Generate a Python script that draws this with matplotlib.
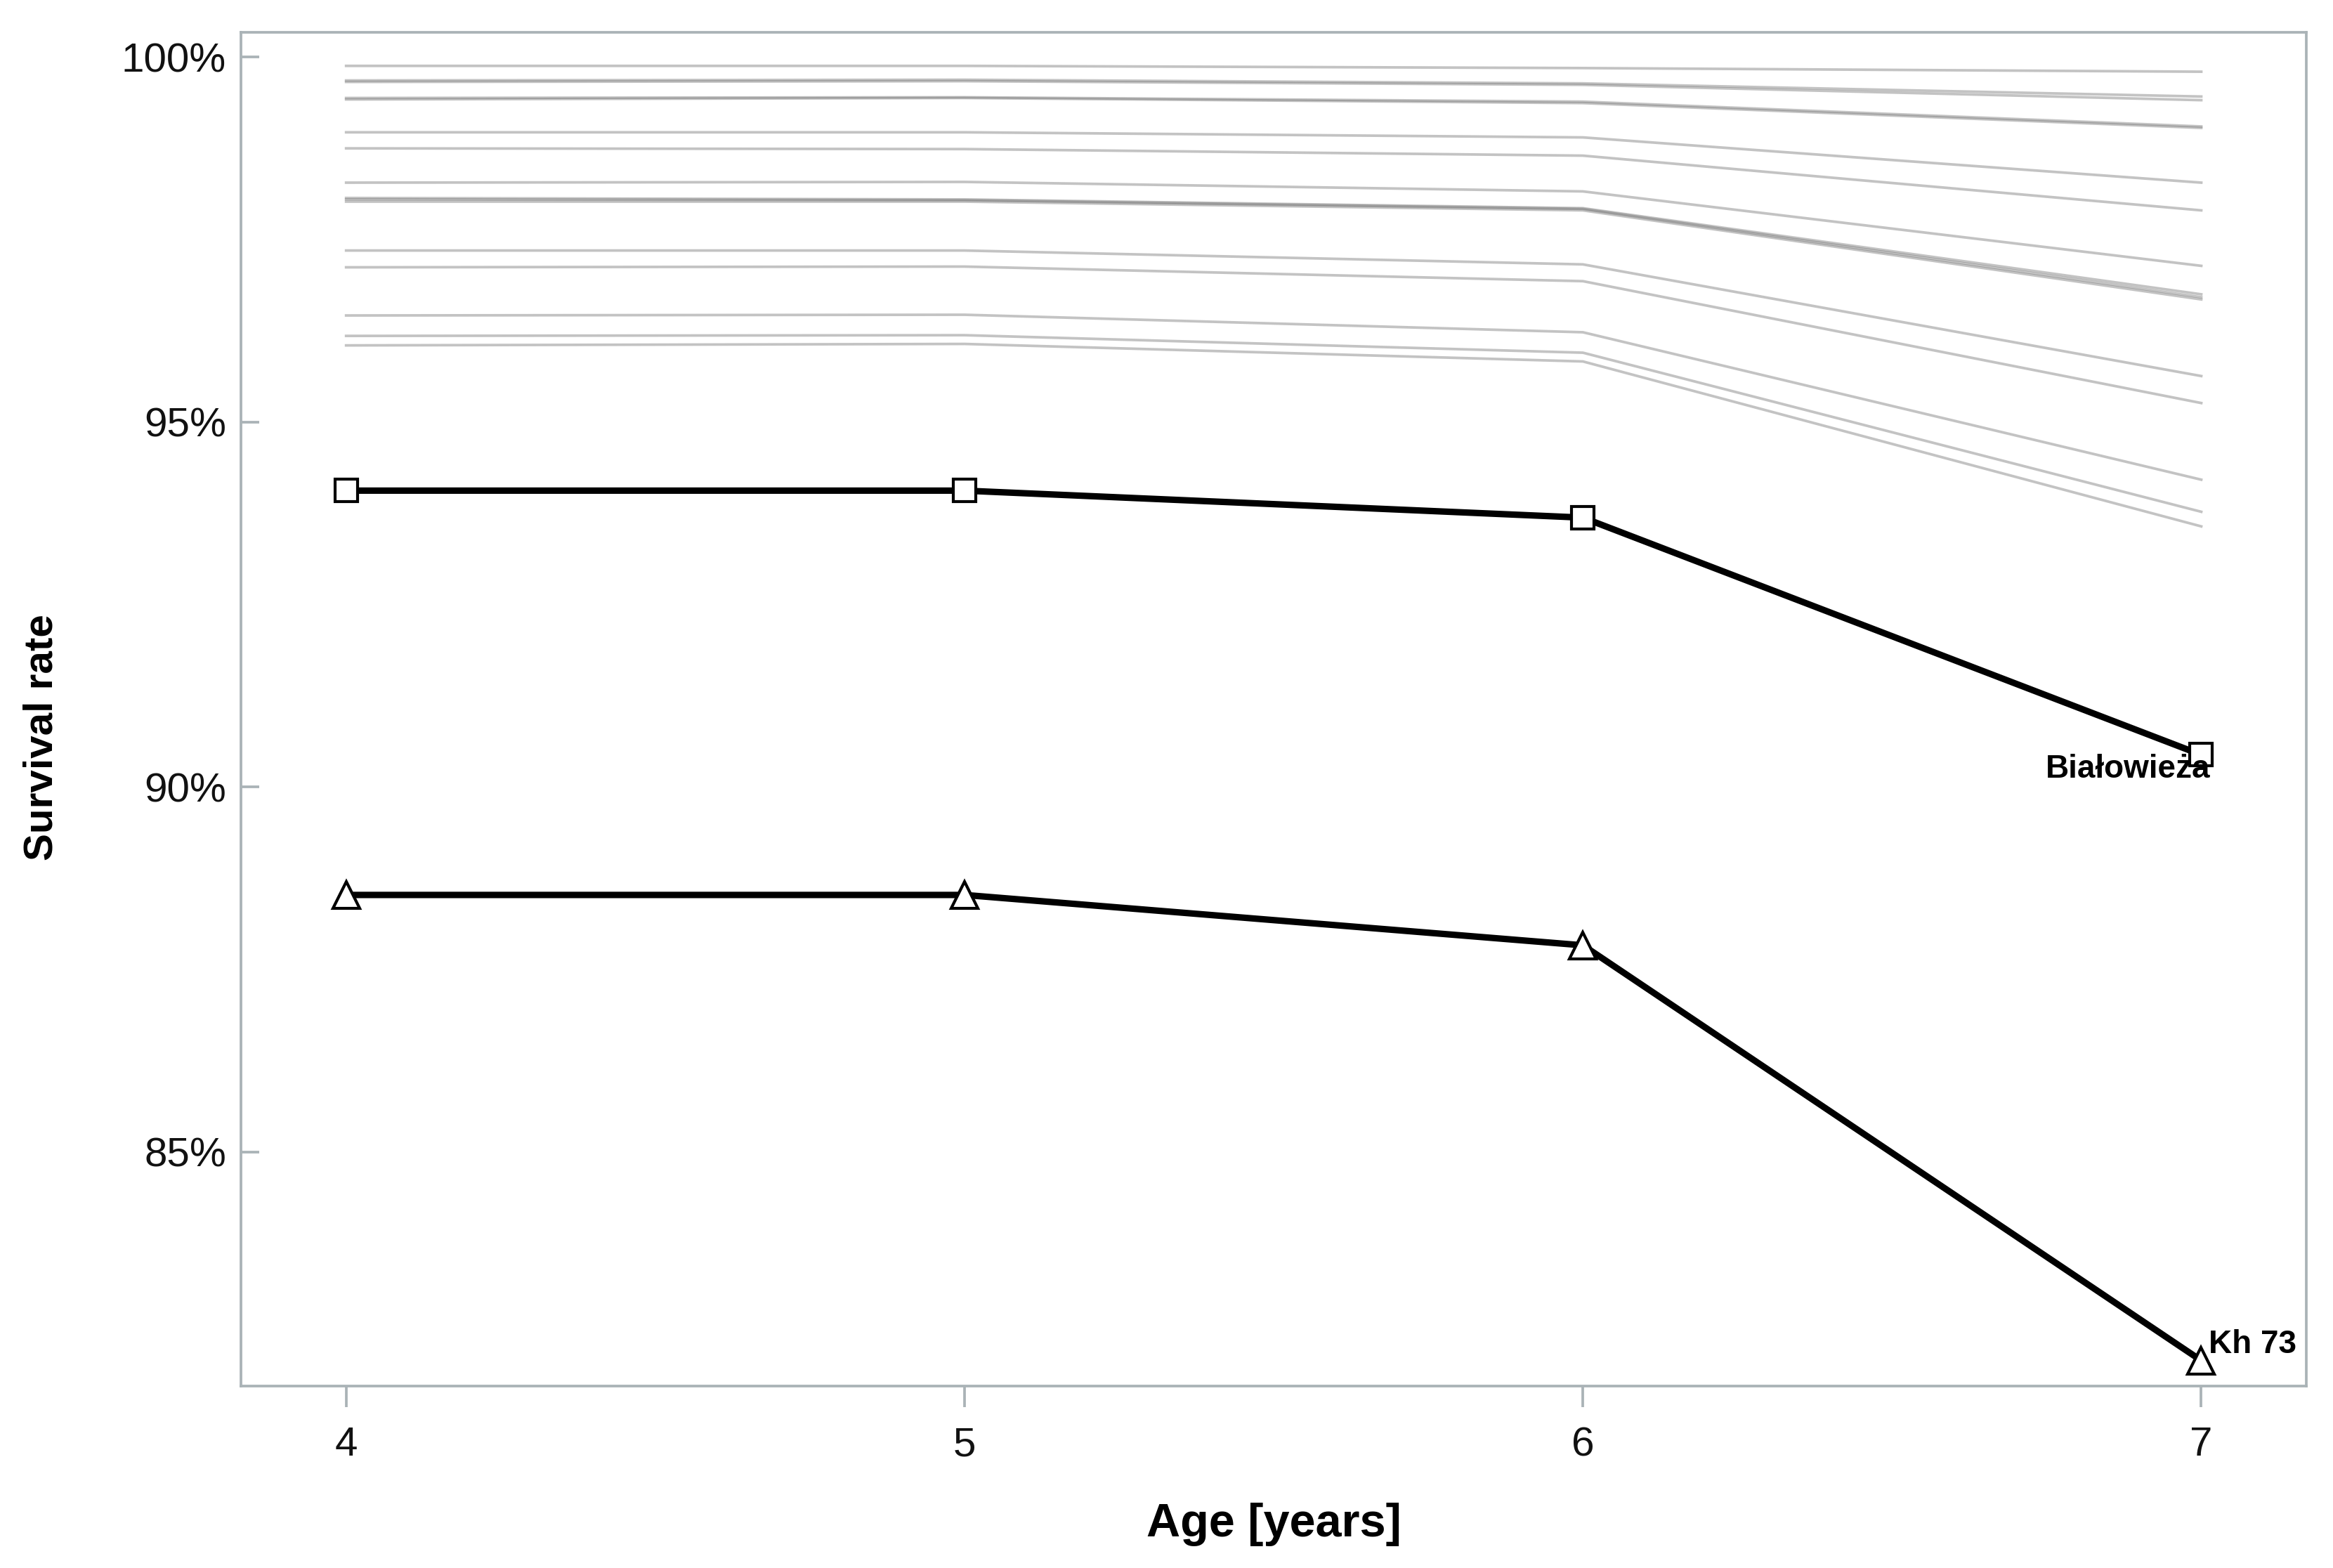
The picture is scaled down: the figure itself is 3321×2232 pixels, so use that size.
import matplotlib
matplotlib.use("Agg")
import matplotlib.pyplot as plt
from matplotlib.ticker import FuncFormatter

# Wiek (lata)
ages = [4, 5, 6, 7]

# Pozostałe populacje (szare linie), wartości w %
other_sites = [
    [99.88, 99.88, 99.85, 99.80],
    [99.68, 99.69, 99.64, 99.46],
    [99.66, 99.67, 99.62, 99.41],
    [99.44, 99.45, 99.39, 99.05],
    [99.42, 99.44, 99.37, 99.03],
    [98.97, 98.97, 98.90, 98.28],
    [98.75, 98.74, 98.65, 97.90],
    [98.28, 98.29, 98.16, 97.14],
    [98.07, 98.05, 97.93, 96.75],
    [98.05, 98.04, 97.92, 96.71],
    [98.02, 98.02, 97.90, 96.68],
    [97.35, 97.35, 97.16, 95.63],
    [97.12, 97.13, 96.93, 95.26],
    [96.46, 96.47, 96.23, 94.21],
    [96.18, 96.19, 95.95, 93.77],
    [96.05, 96.07, 95.83, 93.57],
]

bialowieza = [94.06, 94.06, 93.69, 90.44]
kh73 = [88.52, 88.52, 87.83, 82.14]

y_ticks = [85, 90, 95, 100]

plt.rcParams['font.family'] = ['Liberation Sans', 'DejaVu Sans']

spine_color = '#aab3b7'

fig = plt.figure(figsize=(3321 / 300, 2232 / 300), dpi=300)
ax = fig.add_axes([0.1033, 0.1160, 0.8853, 0.8634])

for vals in other_sites:
    ax.plot(ages, vals, color='0.42', alpha=0.4, linewidth=0.9)

ax.plot(ages, bialowieza, color='black', linewidth=2.2, marker='s',
        markersize=7.8, markerfacecolor='white', markeredgecolor='black',
        markeredgewidth=1.0, zorder=5)
ax.plot(ages, kh73, color='black', linewidth=2.2, marker='^',
        markersize=9, markerfacecolor='white', markeredgecolor='black',
        markeredgewidth=1.0, zorder=5)

ax.annotate('Białowieża', xy=(ages[-1], bialowieza[-1]), xytext=(3, -5),
            textcoords='offset points', ha='right', va='center',
            fontsize=11, fontweight='bold', zorder=6)
ax.annotate('Kh 73', xy=(ages[-1], kh73[-1]), xytext=(2.5, 5.5),
            textcoords='offset points', ha='left', va='center',
            fontsize=11, fontweight='bold', zorder=6)

ax.set_xlim(3.83, 7.17)
ax.set_ylim(81.79, 100.34)
ax.set_xticks(ages)
ax.set_yticks(y_ticks)
ax.yaxis.set_major_formatter(FuncFormatter(lambda v, p: f"{v:.0f}%"))

for s in ax.spines.values():
    s.set_color(spine_color)
    s.set_linewidth(0.9)

ax.tick_params(axis='y', direction='in', length=6.2, width=0.9,
               color=spine_color, labelsize=14, pad=5, labelcolor='#111111')
ax.tick_params(axis='x', direction='out', length=7.2, width=0.9,
               color=spine_color, labelsize=14, pad=6.5, labelcolor='#111111')

ax.set_xlabel('Age [years]', fontsize=16, fontweight='bold', va='center')
ax.set_ylabel('Survival rate', fontsize=14, fontweight='bold', va='center')
ax.xaxis.set_label_coords(0.5, -0.1023)
ax.yaxis.set_label_coords(-0.0966, 0.479)

fig.savefig('out.png', dpi=300, facecolor='white')
